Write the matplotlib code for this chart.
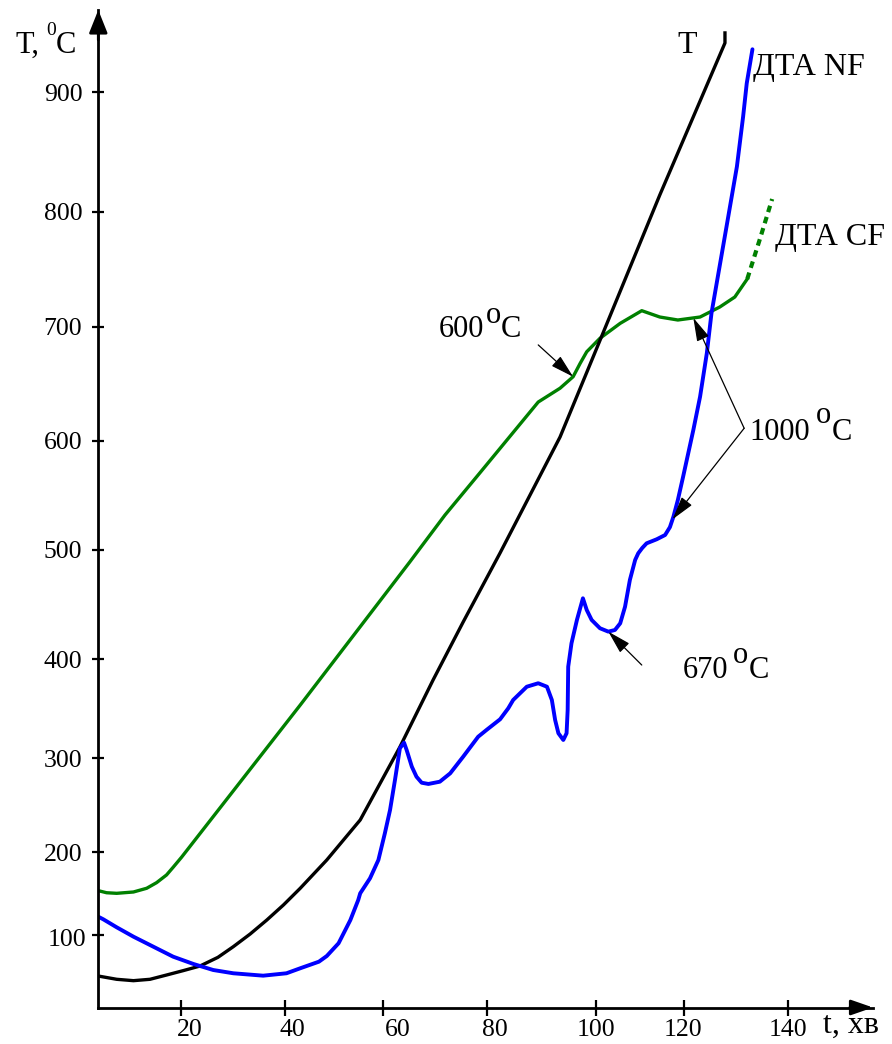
import numpy as np
import matplotlib
matplotlib.use("Agg")
import matplotlib.pyplot as plt
from matplotlib.transforms import ScaledTranslation

plt.rcParams['font.family'] = ['Liberation Serif', 'DejaVu Serif']

# ---- furnace temperature T (black) ----
t_T = [0, 4.45, 8.5, 12.5, 16.5, 20.4, 23.65, 27.1, 30.06, 33.3, 36.5, 39.7,
       43.1, 48.5, 55.3, 63.2, 69.6, 75.4, 82.4, 93.4, 101.6, 114.5,
       127.9, 127.9]
T_T = [43.4, 38.9, 37.0, 38.9, 44.8, 50.8, 57.2, 69.2, 83.9, 101.2, 118.1,
       136.3, 156.5, 190.7, 234.4, 311.4, 379.1, 434.1, 497.3, 603.2,
       694.5, 814.0, 941.3, 949.7]

# ---- DTA CF (green) ----
t_cf = [0, 2.0, 4.45, 8.5, 11.7, 14.1, 16.5, 18.1, 20.1, 43.1, 65.1, 71.9,
        78.6, 89.4, 93.4, 95.8, 97.1, 98.3, 100.9, 105.5, 110.4, 114.5, 118.6,
        123.1, 126.9, 129.8, 132.2]
T_cf = [153.6, 151.1, 150.4, 152.0, 156.5, 163.3, 172.6, 181.9, 194.0, 353.8,
        489.0, 532.0, 570.4, 633.9, 646.0, 656.1, 667.9, 678.0, 689.8, 702.9,
        713.9, 708.4, 705.8, 708.4, 717.1, 725.8, 741.5]
# dotted continuation of DTA CF
t_cf_tail = [132.2, 134.7, 137.0]
T_cf_tail = [741.5, 777.1, 810.6]

# ---- DTA NF (blue) ----
t_nf = [0, 1.2, 4.45, 8.5, 13.3, 18.1, 22.4, 26.2, 30.06, 35.8, 40.3, 43.1,
        46.9, 48.5, 50.9, 53.3, 54.9, 55.3, 57.3, 59.0, 60.3, 61.3, 62.25,
        63.2, 64.0, 64.5, 65.5, 66.4, 67.4, 68.7, 70.9, 72.9, 75.4, 78.3,
        79.9, 82.4, 83.9, 84.8, 87.3, 89.4, 91.0, 91.9, 92.5, 93.1, 94.0,
        94.6, 94.8, 94.9, 95.5, 96.5, 97.6, 98.3, 99.2, 100.9, 102.8, 104.3,
        105.5, 106.6, 107.7, 108.9, 109.6, 110.5, 111.5, 113.8, 115.7, 116.8,
        117.6, 118.6, 119.8, 121.8, 123.1, 124.4, 125.3, 126.3, 128.2, 130.2,
        131.4, 132.1, 133.2]
T_nf = [122.1, 119.0, 109.3, 97.7, 83.9, 70.1, 60.0, 51.7, 47.2, 43.9, 47.2,
        54.1, 63.2, 71.0, 88.6, 118.1, 142.3, 150.4, 168.6, 190.7, 220.2,
        245.0, 276.9, 310.1, 315.8, 308.4, 291.1, 280.4, 274.0, 272.7, 275.1,
        284.0, 301.6, 321.8, 328.6, 339.4, 350.5, 358.9, 372.3, 375.8, 372.3,
        358.9, 338.7, 325.3, 318.5, 325.3, 348.8, 392.5, 414.6, 436.0, 455.8,
        445.1, 436.0, 428.4, 425.3, 426.8, 432.9, 448.1, 472.6, 490.9, 497.0,
        501.8, 506.1, 509.8, 513.7, 520.9, 530.5, 545.7, 567.1, 609.4, 638.6,
        676.7, 711.7, 737.7, 787.0, 837.7, 879.6, 907.5, 936.0]

x_ticks = [20, 40, 60, 80, 100, 120, 140]
y_ticks = [100, 200, 300, 400, 500, 600, 700, 800, 900]

# The axes are hand-graduated: the graduation marks are not evenly spaced.
# Each list pairs a graduation value with its distance (px) from the origin.
x_grad = [0, 20, 40, 60, 80, 100, 120, 140]
x_grad_at = [0, 82.7, 186.7, 285.0, 388.7, 497.7, 585.7, 689.4]
y_grad = [0, 100, 200, 300, 400, 500, 600, 700, 800, 900]
y_grad_at = [0, 72.5, 155.2, 249.2, 348.2, 457.5, 566.8, 680.8, 795.8, 915.2]


def graduated(vals, pos):
    v = np.asarray(vals, float)
    p = np.asarray(pos, float)

    def piecewise(a, src, dst):
        a = np.asarray(a, float)
        s0 = (dst[1] - dst[0]) / (src[1] - src[0])
        s1 = (dst[-1] - dst[-2]) / (src[-1] - src[-2])
        out = np.interp(a, src, dst)
        out = np.where(a < src[0], dst[0] + (a - src[0]) * s0, out)
        out = np.where(a > src[-1], dst[-1] + (a - src[-1]) * s1, out)
        return out

    return (lambda a: piecewise(a, v, p)), (lambda b: piecewise(b, p, v))


W, H = 892, 1044
fig = plt.figure(figsize=(W / 100, H / 100), dpi=100)
x0, y0, x1, y1 = 98.3, 1007.5, 873.0, 10.0
ax = fig.add_axes([x0 / W, 1 - y0 / H, (x1 - x0) / W, (y0 - y1) / H])

ax.set_xscale('function', functions=graduated(x_grad, x_grad_at))
ax.set_yscale('function', functions=graduated(y_grad, y_grad_at))
ax.set_xlim(0, 156.45)
ax.set_ylim(0, 968.9)

for side in ('top', 'right'):
    ax.spines[side].set_visible(False)
for side in ('left', 'bottom'):
    ax.spines[side].set_linewidth(2.0)

ax.set_xticks(x_ticks)
ax.set_yticks(y_ticks)
ax.set_xticklabels([str(v) for v in x_ticks])
ax.set_yticklabels([str(v) for v in y_ticks])
ax.tick_params(axis='y', direction='inout', length=8, width=1.6,
               labelsize=18.5, pad=7.5)
ax.tick_params(axis='x', direction='inout', length=11, width=1.6,
               labelsize=18.5, pad=3)

# hand-lettered labels sit slightly off their marks
x_label_shift = [8.5, 7.7, 14.0, 7.7, 0.0, -1.0, 0.0]
for lbl, dx in zip(ax.get_xticklabels(), x_label_shift):
    lbl.set_transform(lbl.get_transform() +
                      ScaledTranslation(dx / 100, 0, fig.dpi_scale_trans))
y_label_shift = [4.0, 0, 0, 0, 0, 0, 0, 0, 0]
for lbl, dx in zip(ax.get_yticklabels(), y_label_shift):
    lbl.set_transform(lbl.get_transform() +
                      ScaledTranslation(dx / 100, -3 / 100 if dx else 0,
                                        fig.dpi_scale_trans))

# axis arrowheads
ax.annotate('', xy=(0, 1), xycoords='axes fraction', xytext=(0, 0.97),
            arrowprops=dict(arrowstyle='-|>,head_length=1.0,head_width=0.4',
                            color='black', lw=2, shrinkA=0, shrinkB=0,
                            mutation_scale=14), annotation_clip=False)
ax.annotate('', xy=(1, 0), xycoords='axes fraction', xytext=(0.97, 0),
            arrowprops=dict(arrowstyle='-|>,head_length=0.95,head_width=0.33',
                            color='black', lw=2, shrinkA=0, shrinkB=0,
                            mutation_scale=14), annotation_clip=False)

# curves
ax.plot(t_cf, T_cf, color='#008000', lw=2.4, solid_joinstyle='round')
ax.plot(t_cf_tail, T_cf_tail, color='#008000', lw=3.0,
        linestyle=(0, (1.6, 1.2)))
ax.plot(t_T, T_T, color='black', lw=2.4, solid_joinstyle='round')
ax.plot(t_nf, T_nf, color='#0000ff', lw=2.8, solid_joinstyle='round',
        solid_capstyle='round')

# curve names
ax.text(118.6, 932.9, 'T', fontsize=23, ha='left', va='baseline')
ax.text(133.3, 914.5, 'ДТА NF', fontsize=23, ha='left', va='baseline')
ax.text(137.6, 771.0, 'ДТА CF', fontsize=23, ha='left', va='baseline')


def degrees_label(xy, number, o_shift, c_shift, size=22, coords='data'):
    """Number, raised 'o' and 'C' lettered as separate pieces."""
    kw = dict(xycoords=coords, textcoords='offset pixels', ha='left',
              va='baseline', annotation_clip=False)
    ax.annotate(number, xy=xy, xytext=(0, 0), fontsize=size, **kw)
    ax.annotate('o', xy=xy, xytext=o_shift, fontsize=size, **kw)
    ax.annotate('C', xy=xy, xytext=c_shift, fontsize=size, **kw)


# annotations of characteristic points
arrow = dict(arrowstyle='-|>,head_length=0.72,head_width=0.2', color='black',
             lw=0.9, shrinkA=0, shrinkB=0, mutation_scale=20)


def on_curve(t, ts, Ts):
    return (t, float(np.interp(t, ts, Ts)))


degrees_label((70.74, 691.0), '600', (47, 14), (62, 0))
ax.annotate('', xy=on_curve(95.8, t_cf, T_cf), xytext=(89.4, 684.0),
            arrowprops=arrow)

degrees_label((132.7, 600.6), '1000', (66, 17), (82, 0))
ax.annotate('', xy=on_curve(121.8, t_cf, T_cf), xytext=(131.6, 610.9),
            arrowprops=arrow)
ax.annotate('', xy=on_curve(117.4, t_nf, T_nf), xytext=(131.6, 610.9),
            arrowprops=arrow)

degrees_label((119.8, 381.1), '670', (50, 15), (66, 0))
ax.annotate('', xy=on_curve(102.8, t_nf, T_nf), xytext=(110.4, 394.2),
            arrowprops=arrow)

# axis titles
title_kw = dict(xycoords='figure pixels', textcoords='offset pixels',
                ha='left', va='baseline', annotation_clip=False)
ax.annotate('T,', xy=(15, H - 53), xytext=(0, 0), fontsize=22, **title_kw)
ax.annotate('0', xy=(15, H - 53), xytext=(31, 18), fontsize=14, **title_kw)
ax.annotate('C', xy=(15, H - 53), xytext=(41, 0), fontsize=22, **title_kw)
ax.annotate('t, хв', xy=(823, H - 1033), xytext=(0, 0), fontsize=23,
            **title_kw)

fig.savefig('out.png', dpi=100)
